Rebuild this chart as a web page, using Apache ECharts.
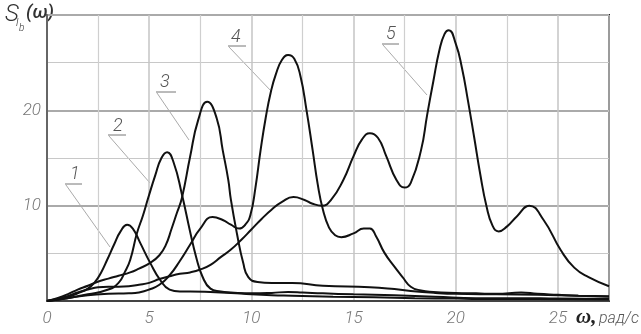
<!DOCTYPE html>
<html><head><meta charset="utf-8">
<script src="https://cdn.jsdelivr.net/npm/echarts@6/dist/echarts.min.js"></script>
<style>html,body{margin:0;padding:0;background:#fff}#c{width:641px;height:334px}</style>
</head><body><div id="c"></div>
<script>
// ---- data ----
const w1 = [0,0.5,1,1.5,2,2.35,2.65,2.94,3.3,3.6,3.92,4.2,4.56,5.05,5.54,6.0,6.5,7,8,9,10,11,12,14,16,18,20,22,24,27.5];
const s1 = [0,0.15,0.4,0.8,1.3,2.0,3.0,4.3,6.0,7.3,8.0,7.6,6.1,4.0,2.2,1.2,1.0,1.0,0.95,0.85,0.7,0.6,0.55,0.45,0.4,0.3,0.25,0.2,0.2,0.15];
const w2 = [0,1,2,3,3.5,3.8,4.07,4.4,4.7,4.95,5.3,5.6,5.88,6.2,6.6,7.0,7.3,7.6,8.0,8.5,9,10,11,11.8,12.5,13.5,15,17,19,21,23,25,27.5];
const s2 = [0,0.3,0.7,1.2,1.9,3.0,4.3,7.1,9.0,10.8,13.2,15.0,15.6,14.5,11.2,7.3,4.6,2.6,1.3,1.0,0.9,0.8,0.85,0.95,0.9,0.8,0.7,0.6,0.45,0.3,0.3,0.25,0.2];
const w3 = [0,0.5,1,1.5,2,2.45,3,3.5,4.07,4.5,5.05,5.5,5.8,6.1,6.35,6.6,7.0,7.4,7.84,8.3,8.6,8.87,9.0,9.3,9.6,9.85,10.3,11,12,13.5,15.8,17,17.8,19,20,22,24,26,27.5];
const s3 = [0,0.3,0.7,1.2,1.6,2.0,2.35,2.65,3.0,3.4,4.0,4.8,5.8,7.6,9.2,10.8,15.1,19.0,20.9,19.2,15.8,12.7,10.6,7.0,4.0,2.5,2.0,1.9,1.9,1.6,1.45,1.25,1.05,0.85,0.75,0.7,0.65,0.55,0.5];
const w4 = [0,1,2,3,4,4.5,5,5.5,6,6.5,7.0,7.5,8.1,8.6,9.0,9.4,9.7,9.95,10.2,10.45,10.7,10.95,11.2,11.5,11.8,12.1,12.4,12.7,13.0,13.25,13.5,13.8,14.1,14.4,15.0,15.5,15.8,16.1,16.5,17.0,17.4,17.8,18.3,18.9,20,21,22,23.2,24,25,26,27.5];
const s4 = [0,0.3,0.6,0.75,0.8,0.9,1.2,1.7,2.7,4.2,5.9,7.6,8.8,8.5,8.0,7.6,8.0,9.0,11.9,15.8,19.2,21.9,23.8,25.3,25.8,25.4,23.6,20.0,15.8,12.2,9.6,7.7,6.9,6.7,7.1,7.6,7.6,6.8,5.1,3.6,2.5,1.5,1.1,0.95,0.85,0.8,0.75,0.9,0.75,0.65,0.55,0.45];
const w5 = [0,1,1.5,2,2.5,3,3.5,4,4.5,5,5.5,6,6.5,7,7.5,8,8.5,9,9.5,10,10.5,11,11.5,12.06,12.6,13.0,13.45,13.9,14.5,15,15.4,15.8,16.2,16.6,17.1,17.5,17.8,18.3,18.6,18.9,19.2,19.45,19.66,20.0,20.3,20.6,20.9,21.2,21.5,21.8,22.1,22.5,23.0,23.6,24.3,25.15,25.8,26.5,27.5];
const s5 = [0,0.5,0.9,1.2,1.45,1.5,1.5,1.55,1.7,1.9,2.3,2.6,2.85,3.0,3.3,3.8,4.6,5.4,6.4,7.5,8.6,9.6,10.4,10.9,10.6,10.2,10.0,10.6,12.7,15.2,16.9,17.6,17.1,15.2,12.7,11.9,12.4,15.8,19.5,23.0,26.3,28.0,28.4,27.0,24.5,21.0,17.2,13.3,10.0,7.9,7.3,7.8,8.9,10.0,8.5,5.3,3.5,2.5,1.55];
const xTicks = [0,5,10,15,20,25];
const yTicks = [10,20];

const zip = (a,b) => a.map((v,i)=>[v,b[i]]);
const chart = echarts.init(document.getElementById('c'), null, {renderer:'canvas'});
const FONT = "Roboto, 'Liberation Sans', sans-serif";
const lineSeries = (d) => ({type:'line', data:d, smooth:0.5, symbol:'none',
  lineStyle:{color:'#111', width:2}, z:5});
chart.setOption({
  animation:false,
  backgroundColor:'#fff',
  grid:{left:47, right:32, top:15, bottom:33, show:true, borderColor:'#222', borderWidth:2},
  xAxis:{type:'value', min:0, max:27.5, interval:5,
    axisLine:{show:true, lineStyle:{color:'#444', width:2}}, axisTick:{show:false},
    axisLabel:{margin:9, color:'#777', fontFamily:FONT, fontStyle:'italic', fontWeight:300, fontSize:17,
      formatter:v => xTicks.includes(v) ? String(v) : ''},
    splitLine:{show:true, lineStyle:{color:'#c4c4c4', width:1.5}},
    minorTick:{show:false, splitNumber:2},
    minorSplitLine:{show:true, lineStyle:{color:'#cfcfcf', width:1.2}}},
  yAxis:{type:'value', min:0, max:30, interval:10,
    axisLine:{show:true, lineStyle:{color:'#666', width:2}}, axisTick:{show:false},
    axisLabel:{margin:6, color:'#777', fontFamily:FONT, fontStyle:'italic', fontWeight:300, fontSize:17,
      formatter:v => yTicks.includes(v) ? String(v) : ''},
    splitLine:{show:true, lineStyle:{color:'#aaa', width:2}},
    minorTick:{show:false, splitNumber:2},
    minorSplitLine:{show:true, lineStyle:{color:'#c8c8c8', width:1.2}}},
  series:[lineSeries(zip(w1,s1)), lineSeries(zip(w2,s2)), lineSeries(zip(w3,s3)), lineSeries(zip(w4,s4)), lineSeries(zip(w5,s5))],
  graphic:[
    // axis titles
    {type:'text', left:5, top:3, style:{text:'S', font:"italic 300 24px "+FONT, fill:'#333'}},
    {type:'text', left:16, top:18, style:{text:'l', font:"italic 300 11px "+FONT, fill:'#333'}},
    {type:'text', left:19, top:23, style:{text:'b', font:"italic 300 10px "+FONT, fill:'#333'}},
    {type:'text', left:26, top:4, style:{text:'(ω)', font:"italic 500 19px "+FONT, fill:'#333'}},
    {type:'text', left:576, top:307, style:{text:'ω,', font:"italic bold 21px 'Liberation Serif',serif", fill:'#222'}},
    {type:'text', left:599, top:311, style:{text:'рад/с', font:"italic 300 16px "+FONT, fill:'#555'}},
    // curve labels with leaders
    {type:'text', left:70, top:165, style:{text:'1', font:"italic 300 18px "+FONT, fill:'#555'}},
    {type:'line', shape:{x1:65,y1:184,x2:82,y2:184}, style:{stroke:'#777', lineWidth:1}},
    {type:'line', shape:{x1:66,y1:185,x2:110,y2:247}, style:{stroke:'#aaa', lineWidth:1}},
    {type:'text', left:113, top:117, style:{text:'2', font:"italic 300 18px "+FONT, fill:'#555'}},
    {type:'line', shape:{x1:108,y1:135,x2:126,y2:135}, style:{stroke:'#777', lineWidth:1}},
    {type:'line', shape:{x1:109,y1:136,x2:150,y2:183}, style:{stroke:'#aaa', lineWidth:1}},
    {type:'text', left:160, top:73, style:{text:'3', font:"italic 300 18px "+FONT, fill:'#555'}},
    {type:'line', shape:{x1:156,y1:92,x2:176,y2:92}, style:{stroke:'#777', lineWidth:1}},
    {type:'line', shape:{x1:157,y1:93,x2:189,y2:140}, style:{stroke:'#aaa', lineWidth:1}},
    {type:'text', left:231, top:28, style:{text:'4', font:"italic 300 18px "+FONT, fill:'#555'}},
    {type:'line', shape:{x1:228,y1:46,x2:246,y2:46}, style:{stroke:'#777', lineWidth:1}},
    {type:'line', shape:{x1:229,y1:47,x2:272,y2:92}, style:{stroke:'#aaa', lineWidth:1}},
    {type:'text', left:386, top:25, style:{text:'5', font:"italic 300 18px "+FONT, fill:'#555'}},
    {type:'line', shape:{x1:382,y1:44,x2:399,y2:44}, style:{stroke:'#777', lineWidth:1}},
    {type:'line', shape:{x1:383,y1:45,x2:427,y2:95}, style:{stroke:'#aaa', lineWidth:1}}
  ]
});
</script></body></html>
